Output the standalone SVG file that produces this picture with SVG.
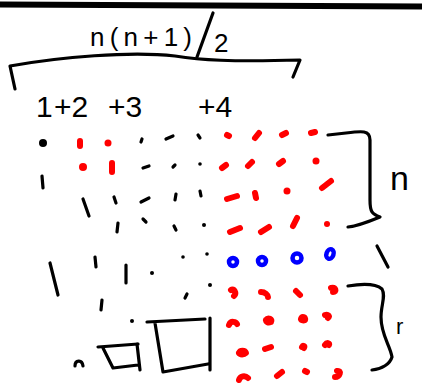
<svg xmlns="http://www.w3.org/2000/svg" width="422" height="388" viewBox="0 0 422 388">
<style>
.k{stroke:#000;stroke-width:3.2;stroke-linecap:round;stroke-linejoin:round;fill:none}
.kd{fill:#000}
.r{stroke:#f00;stroke-width:6;stroke-linecap:round;stroke-linejoin:round;fill:none}
.rd{fill:#f00}
.b{stroke:#00f;stroke-width:4.5;fill:none}
.t{font-family:"Liberation Sans",Arial,sans-serif;fill:#000}
</style>
<rect width="422" height="388" fill="#fff"/>
<path d="M0,4.5 L422,6.5" stroke="#000" stroke-width="6"/>
<g id="formula">
<text class="t" x="90" y="46" font-size="26" textLength="102" lengthAdjust="spacing">n(n+1)</text>
<path class="k" d="M213,13 L197,57"/>
<text class="t" x="214" y="52" font-size="26">2</text>
</g>
<g id="top-brace">
<path class="k" d="M15,89 L10,66 C60,57 130,51 175,56 C200,60 230,62 300,60 L293,77"/>
</g>
<g id="sum">
<text class="t" x="36" y="117" font-size="30">1</text>
<text class="t" x="54" y="117" font-size="30">+2</text>
<text class="t" x="108" y="117" font-size="30">+3</text>
<text class="t" x="198" y="117" font-size="30">+4</text>
</g>
<g id="black-marks">
<circle class="kd" cx="43" cy="143" r="4"/>
<path class="k" d="M141,142L142,139M166,139L173,136M198,135L200,138M143,168L149,166M173,167L175,165M42,176L43,188M83,199L89,216M114,197L116,203M141,202L149,198M176,194L175,200M200,191L201,196M118,223L117,232M143,219L146,222M174,226L176,230M95,257L96,267M50,263L58,295M126,265L126,283M185,298L187,294"/>
<path class="k" stroke-width="4" d="M102,300L101,310"/>
<circle class="kd" cx="200" cy="164" r="1.8"/>
<circle class="kd" cx="204" cy="225" r="2"/>
<circle class="kd" cx="152" cy="273" r="2"/>
<circle class="kd" cx="183" cy="257" r="1.8"/>
<circle class="kd" cx="207" cy="254" r="1.8"/>
<circle class="kd" cx="210" cy="285" r="2"/>
<circle class="kd" cx="132" cy="321" r="2"/>
<path class="k" stroke-width="4" d="M75,366 C75,360 82,359 83,366"/>
</g>
<g id="squares">
<path class="k" d="M98,347 L138,344 M103,348 L113,368 L138,365 M137,344 L140,370"/>
<path class="k" d="M147,322 L205,319 M155,323 L163,372 L208,364 M210,318 L210,370"/>
</g>
<g id="red-marks">
<path class="r" d="M80,141L80,146M227,135L229,136M255,138L259,133M282,135L286,133M311,133L315,132M112,163L112,172M222,168L226,165M248,166L252,162M279,164L283,161M227,199L237,196M255,193L256,198M322,188L331,181M230,232L240,228M261,232L269,227M293,226L297,218"/>
<circle class="rd" cx="108" cy="143" r="3.5"/>
<circle class="rd" cx="83" cy="167" r="4"/>
<circle class="rd" cx="316" cy="161" r="3.5"/>
<circle class="rd" cx="287" cy="191" r="3.5"/>
<circle class="rd" cx="327" cy="224" r="3"/>
<path class="r" stroke-width="5" d="M231,290 C234,288 237,293 234,296 M261,292 C265,292 268,295 268,297 M296,291 L300,295 M331,288 C336,287 337,292 333,292 M229,325 C231,320 236,322 237,324 M266,320 C268,317 273,319 271,322 C268,323 266,322 266,320 M301,319 C302,316 306,317 305,320 C303,321 301,320 301,319 M325,315 C328,314 330,316 328,318 M239,353 C240,350 245,350 246,353 C244,355 240,355 239,353 M265,349 L271,347 M302,347 C303,345 305,346 304,348 M325,345 C327,342 330,343 329,345 M239,380 C240,376 245,375 248,378 M277,376 L282,372 M305,371 L307,372 M337,371 C342,370 340,377 335,377"/>
</g>
<g id="blue-marks">
<circle class="b" cx="233" cy="262" r="4"/>
<circle class="b" cx="262" cy="261" r="4"/>
<circle class="b" cx="297" cy="258" r="4.5"/>
<ellipse class="b" cx="330" cy="254" rx="3.5" ry="5" transform="rotate(20 330 254)"/>
</g>
<g id="right-braces">
<path class="k" d="M328,135 L346,133 C362,131 370,130 370,140 L370,200 C370,212 372,214 380,217 C368,222 358,226 348,227"/>
<text class="t" x="390" y="190" font-size="34">n</text>
<path class="k" d="M377,246 L388,267"/>
<path class="k" d="M348,286 C360,284 375,283 382,289 C386,296 381,305 381,317 C381,335 390,345 392,357 C390,364 382,369 372,370"/>
<text class="t" x="396" y="334" font-size="22">r</text>
</g>
</svg>
